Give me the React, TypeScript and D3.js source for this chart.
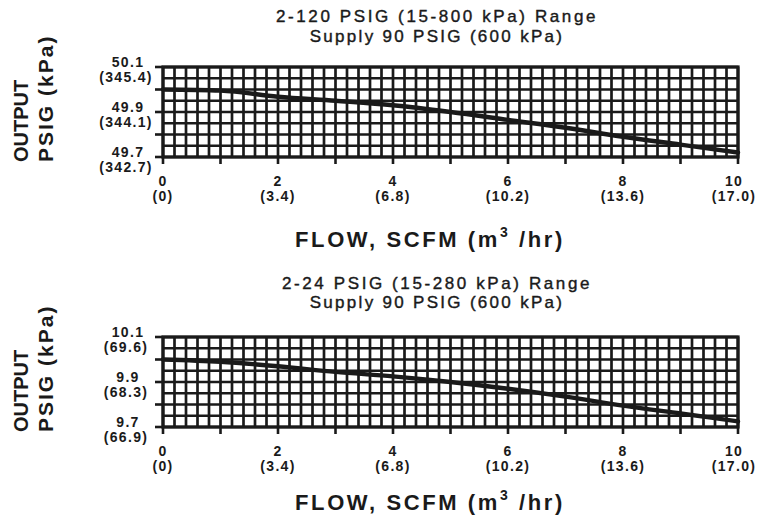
import React from "react";
import * as d3 from "d3";

// ---- data ----
const flowScfm = [0, 1, 2, 3, 4, 5, 6, 7, 8, 9, 10];
const outputHigh = [50.0, 49.995, 49.968, 49.95, 49.93, 49.9, 49.865, 49.83, 49.79, 49.755, 49.72];
const outputLow = [10.0, 9.99, 9.97, 9.945, 9.925, 9.9, 9.87, 9.835, 9.795, 9.76, 9.725];

const flowTickValues = [0, 2, 4, 6, 8, 10];
const flowTickLabels = ["0", "2", "4", "6", "8", "10"];
const flowTickMetric = ["(0)", "(3.4)", "(6.8)", "(10.2)", "(13.6)", "(17.0)"];

const highYTicks = [49.7, 49.9, 50.1];
const highYLabels = ["49.7", "49.9", "50.1"];
const highYMetric = ["(342.7)", "(344.1)", "(345.4)"];

const lowYTicks = [9.7, 9.9, 10.1];
const lowYLabels = ["9.7", "9.9", "10.1"];
const lowYMetric = ["(66.9)", "(68.3)", "(69.6)"];

const titlesHigh = ["2-120 PSIG (15-800 kPa) Range", "Supply 90 PSIG (600 kPa)"];
const titlesLow = ["2-24 PSIG (15-280 kPa) Range", "Supply 90 PSIG (600 kPa)"];

const FONT = "'Liberation Sans', Arial, Helvetica, sans-serif";
const INK = "#1a1a1a";

type ChartProps = {
  top: number;
  values: number[];
  yTicks: number[];
  yLabels: string[];
  yMetric: string[];
  titles: string[];
  titleY: [number, number];
  xTitleY: number;
};

function Chart({ top, values, yTicks, yLabels, yMetric, titles, titleY, xTitleY }: ChartProps) {
  const left = 163;
  const right = 738;
  const height = 90;
  const bottom = top + height;
  const yMin = yTicks[0];
  const yMax = yTicks[yTicks.length - 1];
  const x = d3.scaleLinear().domain([0, 10]).range([left, right]);
  const y = d3.scaleLinear().domain([yMin, yMax]).range([bottom, top]);

  const vGrid = d3.range(0, 51).map((i) => i * 0.2);
  const hGrid = d3.range(0, 9).map((i) => yMin + (i * (yMax - yMin)) / 8);
  const majorY = d3.range(0, 5).map((i) => yMin + (i * (yMax - yMin)) / 4);
  const majorX = d3.range(0, 11);

  const line = d3
    .line<number>()
    .x((_, i) => x(flowScfm[i]))
    .y((d) => y(d))
    .curve(d3.curveMonotoneX);

  const titleSpacing = [2.6, 2.3];
  const tickFont = { fontFamily: FONT, fontWeight: "bold", fontSize: 14, letterSpacing: 1.3, fill: INK } as const;

  return (
    <g>
      {titles.map((t, i) => (
        <text
          key={t}
          x={437}
          y={titleY[i]}
          textAnchor="middle"
          fontFamily={FONT}
          fontSize={17}
          letterSpacing={titleSpacing[i]}
          fill={INK}
          stroke={INK}
          strokeWidth={0.4}
        >
          {t}
        </text>
      ))}
      {/* y axis title */}
      <g transform={`translate(28,${bottom + 5}) rotate(-90)`}>
        <text x={0} y={0} fontFamily={FONT} fontWeight="bold" fontSize={20} letterSpacing={0} fill={INK}>
          OUTPUT
        </text>
        <text x={0} y={25} fontFamily={FONT} fontWeight="bold" fontSize={21} letterSpacing={2} fill={INK}>
          PSIG (kPa)
        </text>
      </g>
      {/* grid */}
      {vGrid.map((v) => (
        <line key={"v" + v} x1={x(v)} x2={x(v)} y1={top} y2={bottom} stroke={INK} strokeWidth={2.7} />
      ))}
      {hGrid.map((v) => (
        <line key={"h" + v} x1={left} x2={right} y1={y(v)} y2={y(v)} stroke={INK} strokeWidth={2.7} />
      ))}
      <rect x={left} y={top} width={right - left} height={height} fill="none" stroke={INK} strokeWidth={3.2} />
      {majorY.map((v) => (
        <line key={"ty" + v} x1={left - 8} x2={left} y1={y(v)} y2={y(v)} stroke={INK} strokeWidth={2.6} />
      ))}
      {majorX.map((v) => (
        <line key={"tx" + v} x1={x(v)} x2={x(v)} y1={bottom} y2={bottom + 7} stroke={INK} strokeWidth={2.6} />
      ))}
      {/* data line */}
      <path d={line(values) || ""} fill="none" stroke={INK} strokeWidth={4.4} strokeLinecap="round" />
      {/* y tick labels */}
      {yTicks.map((v, i) => (
        <g key={"yl" + v}>
          <text x={128} y={y(v)} textAnchor="middle" {...tickFont}>
            {yLabels[i]}
          </text>
          <text x={126} y={y(v) + 14.5} textAnchor="middle" {...tickFont}>
            {yMetric[i]}
          </text>
        </g>
      ))}
      {/* x tick labels */}
      {flowTickValues.map((v, i) => (
        <g key={"xl" + v}>
          <text x={x(v) - (v === 10 ? 4 : 0)} y={bottom + 29} textAnchor="middle" {...tickFont}>
            {flowTickLabels[i]}
          </text>
          <text x={x(v) - (v === 10 ? 4 : 0)} y={bottom + 44} textAnchor="middle" {...tickFont}>
            {flowTickMetric[i]}
          </text>
        </g>
      ))}
      {/* x axis title */}
      <text
        x={430}
        y={xTitleY}
        textAnchor="middle"
        fontFamily={FONT}
        fontWeight="bold"
        fontSize={22}
        letterSpacing={2.6}
        fill={INK}
      >
        FLOW, SCFM (m
        <tspan fontSize={14} dy={-10}>3</tspan>
        <tspan dy={10}> /hr)</tspan>
      </text>
    </g>
  );
}

export default function App() {
  return (
    <svg
      width={760}
      height={521}
      viewBox="0 0 760 521"
      style={{ position: "absolute", left: 0, top: 0, background: "#fff" }}
    >
      <rect width={760} height={521} fill="#fff" />
      <Chart
        top={67}
        values={outputHigh}
        yTicks={highYTicks}
        yLabels={highYLabels}
        yMetric={highYMetric}
        titles={titlesHigh}
        titleY={[22, 42]}
        xTitleY={247}
      />
      <Chart
        top={337}
        values={outputLow}
        yTicks={lowYTicks}
        yLabels={lowYLabels}
        yMetric={lowYMetric}
        titles={titlesLow}
        titleY={[289, 308]}
        xTitleY={510}
      />
    </svg>
  );
}
